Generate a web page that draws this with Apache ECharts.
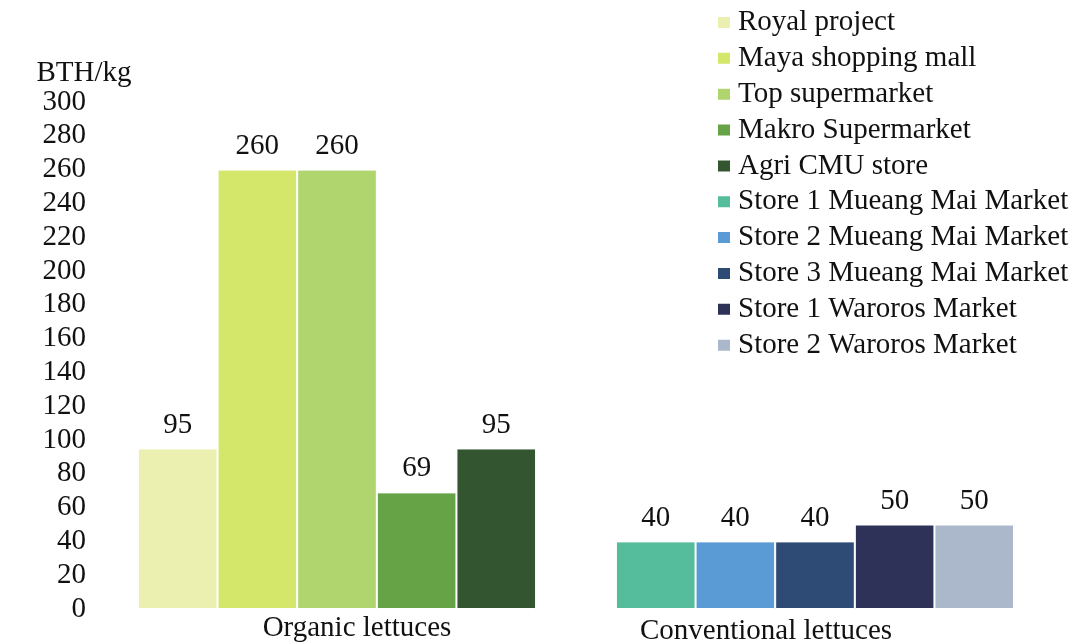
<!DOCTYPE html>
<html>
<head>
<meta charset="utf-8">
<script src="https://cdn.jsdelivr.net/npm/echarts@6/dist/echarts.min.js"></script>
<style>html,body{margin:0;padding:0;background:#fff}#c{width:1077px;height:644px}</style>
</head>
<body>
<div id="c"></div>
<script>
const categories = ['Organic lettuces', 'Conventional lettuces'];
const organicNames = ['Royal project', 'Maya shopping mall', 'Top supermarket', 'Makro Supermarket', 'Agri CMU store'];
const organicValues = [95, 260, 260, 69, 95];
const conventionalNames = ['Store 1 Mueang Mai Market', 'Store 2 Mueang Mai Market', 'Store 3 Mueang Mai Market', 'Store 1 Waroros Market', 'Store 2 Waroros Market'];
const conventionalValues = [40, 40, 40, 50, 50];
const organicColors = ['#EBF0B0', '#D4E76B', '#B0D56E', '#66A347', '#335630'];
const conventionalColors = ['#55BC9C', '#5B9BD5', '#2E4B76', '#2E3258', '#ABB8CB'];
const yTicks = {min: 0, max: 300, interval: 20};

const FONT = '"Liberation Serif", "Times New Roman", serif';
const FS = 29;
const series = [];
function mk(name, color, data, stack) {
  return {
    name: name, type: 'bar', stack: stack, data: data,
    itemStyle: {color: color, borderColor: '#ffffff', borderWidth: 1},
    barGap: '0%', barCategoryGap: '16.7%',
    label: {show: true, position: 'top', distance: 9, fontSize: FS, fontFamily: FONT, color: '#111'}
  };
}
organicNames.forEach((n, i) => series.push(mk(n, organicColors[i], [organicValues[i], '-'], 's' + i)));
conventionalNames.forEach((n, i) => series.push(mk(n, conventionalColors[i], ['-', conventionalValues[i]], 's' + i)));

const chart = echarts.init(document.getElementById('c'), null, {renderer: 'canvas'});
chart.setOption({
  animation: false,
  backgroundColor: '#ffffff',
  textStyle: {fontFamily: FONT},
  grid: {left: 98, right: 23, top: 102, bottom: 35, containLabel: false, outerBoundsMode: 'none'},
  legend: {
    orient: 'vertical', left: 711, top: 3,
    itemWidth: 14, itemHeight: 13, itemGap: 6.85,
    icon: 'rect',
    data: organicNames.concat(conventionalNames),
    textStyle: {fontSize: FS, fontFamily: FONT, color: '#111', lineHeight: 29, padding: [0, 0, 0, 2]}
  },
  xAxis: {
    type: 'category', data: categories,
    axisLine: {show: false}, axisTick: {show: false},
    axisLabel: {
      margin: 5, fontSize: FS, fontFamily: FONT, color: '#111',
      formatter: function (v, i) { return i === 0 ? '{a|' + v + '}' : '{b|' + v + '}'; },
      rich: {
        a: {fontSize: FS, fontFamily: FONT, color: '#111', padding: [0, 0, 0, 40]},
        b: {fontSize: FS, fontFamily: FONT, color: '#111', padding: [3, 98, 0, 0]}
      }
    }
  },
  yAxis: {
    type: 'value', min: yTicks.min, max: yTicks.max, interval: yTicks.interval,
    name: 'BTH/kg', nameGap: 14,
    nameTextStyle: {fontSize: FS, fontFamily: FONT, color: '#111', padding: [0, 28, 0, 0]},
    axisLine: {show: false}, axisTick: {show: false}, splitLine: {show: false},
    axisLabel: {margin: 12, fontSize: FS, fontFamily: FONT, color: '#111'}
  },
  series: series
});
</script>
</body>
</html>
